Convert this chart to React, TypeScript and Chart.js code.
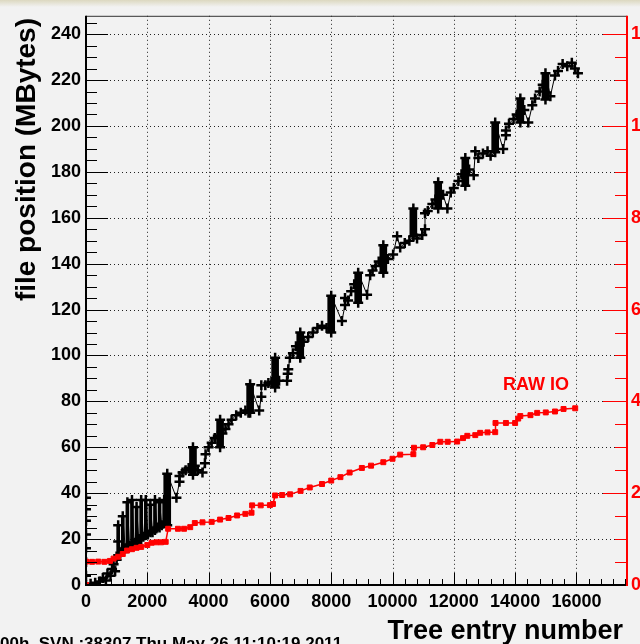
import React, { useEffect, useRef } from "react";
import { Chart, registerables } from "chart.js";

Chart.register(...registerables);

// ---------- axis ranges & tick labels ----------
const X_MAX = 17650;
const Y_MAX = 248;
const Y1_MAX = Y_MAX / 20;
const xTickLabels = [0, 2000, 4000, 6000, 8000, 10000, 12000, 14000, 16000];
const yTickLabels = [0, 20, 40, 60, 80, 100, 120, 140, 160, 180, 200, 220, 240];
const y1TickLabels = [0, 2, 4, 6, 8, 10, 12];

// ---------- black series: file position (MBytes) vs tree entry ----------
const blackEntries = [
  0, 0, 0, 0, 0, 0, 0, 0,
  150, 300, 450, 550, 650, 700, 800, 850, 900, 950, 1000, 1050, 1050,
  1050, 1120, 1200, 1200, 1280, 1350, 1350, 1420, 1500, 1500, 1570, 1650, 1650, 1720, 1800, 1800,
  1870, 1950, 1950, 2020, 2100, 2100, 2170, 2250, 2250, 2320, 2400, 2400, 2470, 2550, 2550, 2600, 2650, 2650,
  2950, 3050, 3050,
  3150, 3250, 3350, 3490, 3490, 3550, 3650,
  3800, 3880, 3900,
  4000, 4100, 4200, 4300, 4375, 4375, 4450, 4550, 4650,
  4750, 4900, 5050, 5200, 5300, 5355, 5355,
  5650, 5720, 5720,
  5850, 5950, 6050, 6170, 6170, 6300,
  6560, 6580, 6600,
  6650, 6750, 6850, 6990, 6990, 7100,
  7250, 7400, 7550, 7700, 7850, 8000, 8000,
  8350, 8450, 8450,
  8550, 8650, 8750, 8880, 8880,
  9170, 9270,
  9350, 9450, 9550, 9700, 9700, 9850,
  10020, 10150,
  10250, 10400, 10550, 10680, 10680, 10800,
  10970, 11060, 11060,
  11150, 11300, 11400, 11490, 11490, 11650, 11790,
  11900,
  12000, 12150, 12250, 12375, 12375, 12500, 12650,
  12700,
  12800, 12950, 13100, 13200, 13350, 13350,
  13610, 13700, 13700,
  13800, 13950, 14050, 14170, 14170, 14300, 14430,
  14560,
  14650, 14800, 14900, 14990, 14990, 15150,
  15300,
  15400, 15550, 15700, 15850, 15950, 16050,
];
const blackMB = [
  38, 33, 28, 22, 16, 10, 4, 0,
  0.5, 1, 1.5, 3, 2, 5, 4, 7, 9, 6, 11, 13, 19,
  26, 14, 15, 30, 16, 16, 36, 17, 18, 37, 18, 19, 34, 20, 20, 37,
  21, 22, 37, 22, 23, 35, 23, 24, 37, 25, 25, 36, 26, 27, 37, 27, 26, 48.5,
  38, 45, 47.5,
  49, 50, 51, 48, 60, 52, 50,
  49, 53, 57,
  60, 62, 64, 65, 60, 72, 66, 68, 70,
  72, 74, 75, 76, 75, 75, 87.5,
  76, 82, 87,
  87, 88, 88.5, 86, 99, 89,
  89, 92, 94,
  99, 101, 104, 99, 110, 106,
  108, 110, 112, 113, 112, 110, 126,
  115, 122, 125,
  124, 128, 131, 123, 136,
  126.5, 135,
  137, 139, 141, 136, 148, 142,
  144, 152,
  147, 149, 150, 152, 164, 151,
  152.5, 155, 162,
  163, 166, 168, 164, 175.5, 170, 164,
  171,
  173, 176, 179, 174, 186, 181, 178.5,
  189,
  186, 188, 189, 187, 188.5, 201.5,
  190, 196, 198,
  201, 203, 205, 201.5, 212, 207, 201.5,
  209,
  212, 215, 218, 211.5, 223, 213,
  222,
  224, 227, 226, 227.5, 225, 223,
];

// thin vertical columns of the early "comb" (entry, lowest MB, highest MB)
const combEntries = [1050, 1200, 1350, 1500, 1650, 1800, 1950, 2100, 2250, 2400, 2550];
const combLow = [13, 15, 16, 18, 19, 20, 22, 23, 24, 25, 27];
const combHigh = [26, 30, 36, 37, 34, 37, 37, 35, 37, 36, 37];

// dense vertical clusters of the black series (entry, lowest MB, highest MB)
const clusterEntries = [2650, 3490, 4375, 5355, 6170, 6990, 8000, 8880, 9700, 10680, 11490, 12375, 13350, 14170, 14990];
const clusterLow = [26, 48, 60, 75, 86, 99, 110, 123, 136, 152, 164, 174, 188.5, 201.5, 211.5];
const clusterHigh = [48.5, 60, 72, 87.5, 99, 110, 126, 136, 148, 164, 175.5, 186, 201.5, 212, 223];

// ---------- red series: RAW IO (right axis) ----------
const rawEntries = [
  0, 0, 200, 400, 600, 780, 900, 1050, 1200, 1340, 1500, 1650, 1800, 2000, 2140, 2300, 2450, 2600,
  2680, 3000, 3200, 3400, 3550, 3800, 4100, 4375, 4650, 4930, 5200, 5400, 5420, 5700, 6000, 6100,
  6170, 6400, 6660, 7000, 7300, 7700, 8000, 8300, 8600, 9000, 9300, 9700, 10000, 10250, 10680,
  10700, 11000, 11300, 11560, 11800, 12110, 12300, 12440, 12700, 12860, 13100, 13350, 13360, 13700,
  14000, 14100, 14170, 14500, 14720, 15000, 15300, 15580, 15960,
];
const rawValues = [
  0, 0.51, 0.505, 0.51, 0.505, 0.525, 0.575, 0.615, 0.675, 0.75, 0.78, 0.81, 0.83, 0.87, 0.92, 0.93, 0.93, 0.94,
  1.225, 1.225, 1.225, 1.26, 1.35, 1.365, 1.375, 1.425, 1.46, 1.515, 1.55, 1.575, 1.735, 1.735, 1.74, 1.765,
  1.95, 1.96, 1.975, 2.05, 2.125, 2.2, 2.275, 2.35, 2.45, 2.55, 2.6, 2.675, 2.75, 2.84, 2.85,
  2.99, 3.0, 3.05, 3.12, 3.12, 3.125, 3.2, 3.25, 3.265, 3.315, 3.325, 3.33, 3.53, 3.53,
  3.53, 3.625, 3.68, 3.7, 3.75, 3.76, 3.78, 3.835, 3.85,
];

const FONT = '"Liberation Sans", Arial, Helvetica, sans-serif';
const RED = "#ff0000";

const rootFramePlugin = {
  id: "rootFrame",
  beforeDraw(chart: any) {
    const { ctx, width, height } = chart;
    ctx.save();
    ctx.fillStyle = "#f2f2f2";
    ctx.fillRect(0, 0, width, height);
    const g = ctx.createLinearGradient(0, 0, 0, 7);
    g.addColorStop(0, "#dcd8c0");
    g.addColorStop(1, "#f2f2f2");
    ctx.fillStyle = g;
    ctx.fillRect(0, 0, width, 7);
    ctx.restore();
  },
  beforeDatasetsDraw(chart: any) {
    const { ctx, chartArea: a, scales } = chart;
    const xs = scales.x, ys = scales.y;
    ctx.save();
    ctx.strokeStyle = "#222";
    ctx.lineWidth = 1;
    ctx.setLineDash([1, 3]);
    for (const v of xTickLabels) {
      if (v === 0) continue;
      const px = Math.round(xs.getPixelForValue(v)) + 0.5;
      ctx.beginPath(); ctx.moveTo(px, a.top); ctx.lineTo(px, a.bottom); ctx.stroke();
    }
    for (const v of yTickLabels) {
      if (v === 0) continue;
      const py = Math.round(ys.getPixelForValue(v)) + 0.5;
      ctx.beginPath(); ctx.moveTo(a.left, py); ctx.lineTo(a.right, py); ctx.stroke();
    }
    ctx.restore();
  },
  afterDatasetsDraw(chart: any) {
    const { ctx, chartArea: a, scales } = chart;
    const xs = scales.x, ys = scales.y, y1 = scales.y1;
    ctx.save();
    ctx.setLineDash([]);
    ctx.lineWidth = 1;
    ctx.strokeStyle = "#000";
    for (let v = 0; v <= Y_MAX; v += 5) {
      const py = Math.round(ys.getPixelForValue(v)) + 0.5;
      const len = v % 20 === 0 ? 22 : 11;
      ctx.beginPath(); ctx.moveTo(a.left, py); ctx.lineTo(a.left + len, py); ctx.stroke();
    }
    for (let v = 0; v <= X_MAX; v += 400) {
      const px = Math.round(xs.getPixelForValue(v)) + 0.5;
      const len = v % 2000 === 0 ? 12 : 6;
      ctx.beginPath(); ctx.moveTo(px, a.bottom); ctx.lineTo(px, a.bottom - len); ctx.stroke();
    }
    ctx.strokeStyle = RED;
    for (let v = 0; v <= Y1_MAX + 1e-9; v += 0.5) {
      const py = Math.round(y1.getPixelForValue(v)) + 0.5;
      const len = Math.abs(v % 2) < 1e-9 ? 24 : 12;
      ctx.beginPath(); ctx.moveTo(a.right, py); ctx.lineTo(a.right - len, py); ctx.stroke();
    }
    ctx.strokeStyle = "#333";
    ctx.beginPath(); ctx.moveTo(a.left, a.top + 0.5); ctx.lineTo(a.right, a.top + 0.5); ctx.stroke();
    ctx.lineWidth = 2;
    ctx.strokeStyle = "#000";
    ctx.beginPath(); ctx.moveTo(a.left, a.top); ctx.lineTo(a.left, a.bottom); ctx.lineTo(a.right, a.bottom); ctx.stroke();
    ctx.strokeStyle = RED;
    ctx.beginPath(); ctx.moveTo(a.right, a.top); ctx.lineTo(a.right, a.bottom + 1); ctx.stroke();
    ctx.restore();
  },
  afterDraw(chart: any) {
    const { ctx } = chart;
    ctx.save();
    ctx.fillStyle = "#000";
    ctx.font = `bold 28px ${FONT}`;
    ctx.translate(35, 18);
    ctx.rotate(-Math.PI / 2);
    ctx.textAlign = "right";
    ctx.textBaseline = "alphabetic";
    ctx.fillText("file position (MBytes)", 0, 0);
    ctx.restore();

    ctx.save();
    ctx.fillStyle = "#000";
    ctx.font = `bold 27px ${FONT}`;
    ctx.textAlign = "right";
    ctx.textBaseline = "alphabetic";
    ctx.fillText("Tree entry number", 623, 639);
    ctx.font = `bold 17px ${FONT}`;
    ctx.textAlign = "left";
    ctx.fillText("00h, SVN :38307 Thu May 26 11:10:19 2011", 0, 649);
    ctx.fillStyle = RED;
    ctx.font = `bold 18px ${FONT}`;
    ctx.fillText("RAW IO", 503, 390);
    ctx.restore();
  },
};

export default function App() {
  const canvasRef = useRef<HTMLCanvasElement | null>(null);

  useEffect(() => {
    document.body.style.margin = "0";
    const canvas = canvasRef.current;
    if (!canvas) return;

    const blackData = blackEntries.map((x, i) => ({ x, y: blackMB[i] }));
    const combData = combEntries.map((x, i) => ({ x, y: [combLow[i], combHigh[i]] }));
    const clusterData = clusterEntries.map((x, i) => ({ x, y: [clusterLow[i], clusterHigh[i]] }));
    const rawData = rawEntries.map((x, i) => ({ x, y: rawValues[i] }));

    const tickFont = { family: FONT, size: 18, weight: "bold" as const };
    const noGrid = { display: false, drawTicks: false, tickLength: 0 };
    const plain = (v: any) => String(v);

    const chart = new Chart(canvas, {
      type: "scatter",
      data: {
        datasets: [
          {
            type: "scatter",
            label: "RAW IO",
            data: rawData,
            yAxisID: "y1",
            showLine: true,
            borderColor: RED,
            borderWidth: 1.5,
            backgroundColor: RED,
            pointBackgroundColor: RED,
            pointBorderColor: RED,
            pointStyle: "rect",
            pointRadius: 3.5,
            pointBorderWidth: 1,
            order: 0,
          } as any,
          {
            type: "scatter",
            label: "file position",
            data: blackData,
            yAxisID: "y",
            showLine: true,
            borderColor: "#000",
            borderWidth: 1,
            pointStyle: "cross",
            pointRadius: 5,
            pointBorderWidth: 2.5,
            pointBorderColor: "#000",
            order: 1,
          } as any,
          {
            type: "bar",
            label: "comb",
            data: combData,
            yAxisID: "y",
            backgroundColor: "#000",
            borderWidth: 0,
            barThickness: 3,
            grouped: false,
            order: 2,
          } as any,
          {
            type: "bar",
            label: "clusters",
            data: clusterData,
            yAxisID: "y",
            backgroundColor: "#000",
            borderWidth: 0,
            barThickness: 7,
            grouped: false,
            order: 3,
          } as any,
        ],
      },
      options: {
        responsive: false,
        animation: false,
        events: [],
        layout: { padding: { top: 13, left: 0, right: 0, bottom: 0 } },
        plugins: { legend: { display: false }, tooltip: { enabled: false }, title: { display: false } },
        scales: {
          x: {
            type: "linear",
            min: 0,
            max: X_MAX,
            offset: false,
            grid: noGrid,
            border: { display: false },
            ticks: { autoSkip: false, maxRotation: 0, minRotation: 0, color: "#000", font: tickFont, padding: 6, callback: plain },
            afterBuildTicks: (s: any) => { s.ticks = xTickLabels.map((v) => ({ value: v })); },
            afterFit: (s: any) => { s.height = 59; },
          },
          y: {
            type: "linear",
            position: "left",
            min: 0,
            max: Y_MAX,
            grid: noGrid,
            border: { display: false },
            ticks: { autoSkip: false, color: "#000", font: tickFont, padding: 5, callback: plain },
            afterBuildTicks: (s: any) => { s.ticks = yTickLabels.map((v) => ({ value: v })); },
            afterFit: (s: any) => { s.width = 86; },
          },
          y1: {
            type: "linear",
            position: "right",
            min: 0,
            max: Y1_MAX,
            grid: noGrid,
            border: { display: false },
            ticks: { autoSkip: false, color: RED, font: tickFont, padding: 4, callback: plain },
            afterBuildTicks: (s: any) => { s.ticks = y1TickLabels.map((v) => ({ value: v })); },
            afterFit: (s: any) => { s.width = 13; },
          },
        },
      },
      plugins: [rootFramePlugin],
    });

    return () => chart.destroy();
  }, []);

  return (
    <div style={{ width: 640, height: 644, overflow: "hidden" }}>
      <canvas ref={canvasRef} width={640} height={644} style={{ display: "block", width: 640, height: 644 }} />
    </div>
  );
}
